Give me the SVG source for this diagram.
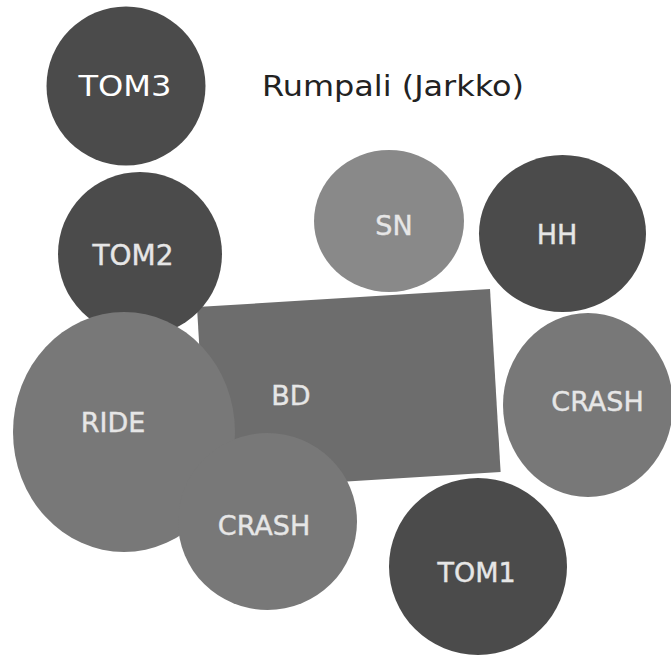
<svg xmlns="http://www.w3.org/2000/svg" width="671" height="658" viewBox="0 0 671 658">
<style>
.dark{fill:#4b4b4b}
.mid{fill:#787878}
.bd{fill:#6d6d6d}
.light{fill:#898989}
.lbl{font-family:"DejaVu Sans",Verdana,sans-serif;font-size:27px;fill:#e6e6e6;text-anchor:middle;stroke:#e6e6e6;stroke-width:0.4}
.title{font-family:"DejaVu Sans",Verdana,sans-serif;font-size:28px;fill:#222}
</style>
<rect width="671" height="658" fill="#fff"/>
<g id="title"><text class="title" x="262" y="95.5" textLength="262" lengthAdjust="spacingAndGlyphs">Rumpali (Jarkko)</text></g>
<g id="tom3"><ellipse class="dark" cx="126" cy="86" rx="79.5" ry="79.5"/><text class="lbl" x="125" y="95.5" textLength="93" lengthAdjust="spacingAndGlyphs" style="font-size:28px;fill:#fff;stroke:none">TOM3</text></g>
<g id="sn"><ellipse class="light" cx="389" cy="221" rx="75" ry="71"/><text class="lbl" x="394" y="235">SN</text></g>
<g id="hh"><ellipse class="dark" cx="562.5" cy="233.5" rx="83.5" ry="78.5"/><text class="lbl" x="557" y="244">HH</text></g>
<g id="bd"><polygon class="bd" points="197,307 490,289 500.6,472 207.6,490"/><text class="lbl" x="291" y="405">BD</text></g>
<g id="tom2"><ellipse class="dark" cx="140" cy="254" rx="82" ry="82"/><text class="lbl" x="133" y="265" style="font-size:28px">TOM2</text></g>
<g id="ride"><ellipse class="mid" cx="124" cy="432" rx="111" ry="120"/><text class="lbl" x="113" y="432">RIDE</text></g>
<g id="crash1"><ellipse class="mid" cx="267.5" cy="521.5" rx="89.5" ry="88.5"/><text class="lbl" x="264" y="535">CRASH</text></g>
<g id="crash2"><ellipse class="mid" cx="588" cy="405" rx="85" ry="92"/><text class="lbl" x="597.5" y="411">CRASH</text></g>
<g id="tom1"><ellipse class="dark" cx="478" cy="566.5" rx="89" ry="88.5"/><text class="lbl" x="476.5" y="582">TOM1</text></g>
<g id="connectors"/>
</svg>
